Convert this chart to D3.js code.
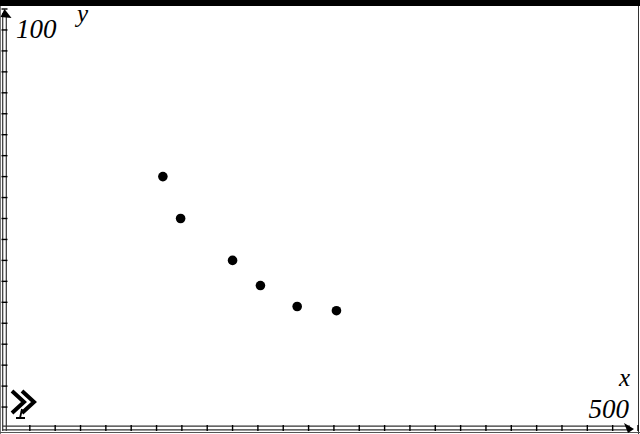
<!DOCTYPE html>
<html>
<head>
<meta charset="utf-8">
<script src="https://cdn.jsdelivr.net/npm/d3@7"></script>
<style>
  body { margin: 0; background: #fff; }
  text { font-family: "Liberation Serif", "DejaVu Serif", serif; font-style: italic; }
</style>
</head>
<body>
<div id="chart"></div>
<script>
// data
var xVals = [125, 139, 180, 202, 231, 262];
var yVals = [60, 50, 40, 34, 29, 28];
var xTicks = d3.range(0, 501, 20);
var yTicks = d3.range(0, 101, 5);

var svgWidth = 640;
var svgHeight = 434;

var svg = d3.select('#chart')
    .append('svg')
    .attr('width', svgWidth)
    .attr('height', svgHeight);

// window scales (0..500 x 0..100)
var x = d3.scaleLinear().domain([0, 500]).range([4.5, 638]);
var y = d3.scaleLinear().domain([0, 100]).range([428, 9]);

// top bar
svg.append('rect')
    .attr('x', 0).attr('y', 0)
    .attr('width', svgWidth).attr('height', 6)
    .attr('fill', '#000');

// frame edges
svg.append('line').attr('x1', 0.5).attr('x2', 0.5).attr('y1', 6).attr('y2', svgHeight)
    .attr('stroke', '#777').attr('stroke-width', 1);
svg.append('line').attr('x1', svgWidth - 1.5).attr('x2', svgWidth - 1.5).attr('y1', 6).attr('y2', svgHeight)
    .attr('stroke', '#333').attr('stroke-width', 1);
svg.append('line').attr('x1', 0).attr('x2', svgWidth).attr('y1', 432.5).attr('y2', 432.5)
    .attr('stroke', '#555').attr('stroke-width', 1);

// double-line axes
var axisColor = '#333';
[-1.8, 1.8].forEach(function(off) {
    svg.append('line')
        .attr('x1', x(0) + off).attr('x2', x(0) + off)
        .attr('y1', y(100) + 4).attr('y2', y(0) + 3)
        .attr('stroke', axisColor).attr('stroke-width', 1.2);
    svg.append('line')
        .attr('x1', x(0) - 2).attr('x2', x(500) - 8)
        .attr('y1', y(0) + off).attr('y2', y(0) + off)
        .attr('stroke', axisColor).attr('stroke-width', 1.2);
});

// tick marks
svg.append('g').selectAll('line')
    .data(xTicks.slice(1))
    .enter()
    .append('line')
        .attr('x1', d => x(d)).attr('x2', d => x(d))
        .attr('y1', y(0) - 3).attr('y2', y(0) + 3)
        .attr('stroke', '#000').attr('stroke-width', 1.4);

svg.append('g').selectAll('line')
    .data(yTicks.slice(1))
    .enter()
    .append('line')
        .attr('x1', x(0) - 3).attr('x2', x(0) + 3)
        .attr('y1', d => y(d)).attr('y2', d => y(d))
        .attr('stroke', '#000').attr('stroke-width', 1.4);

// arrowheads
svg.append('path')
    .attr('d', `M${x(0) - 4},${y(100) + 8} L${x(0)},${y(100)} L${x(0) + 7},${y(100) + 9} Z`)
    .attr('fill', '#000');
svg.append('path')
    .attr('d', `M${x(500) - 14},${y(0) - 5} L${x(500) - 4},${y(0) + 1} L${x(500) - 10},${y(0) + 5} Z`)
    .attr('fill', '#000');

// points
svg.append('g').selectAll('circle')
    .data(xVals.map((d, i) => ({x: d, y: yVals[i]})))
    .enter()
    .append('circle')
        .attr('cx', d => x(d.x))
        .attr('cy', d => y(d.y))
        .attr('r', 4.8)
        .attr('fill', '#000');

// labels
svg.append('text').attr('x', 16).attr('y', 38).attr('font-size', 27).text('100');
svg.append('text').attr('x', 77).attr('y', 22).attr('font-size', 25).text('y');
svg.append('text').attr('x', 619).attr('y', 386).attr('font-size', 25).text('x');
svg.append('text').attr('x', 629).attr('y', 418).attr('font-size', 27)
    .attr('text-anchor', 'end').text('500');

// collapse/expand glyph in the corner
var g = svg.append('g').attr('transform', 'translate(8,389)');
g.append('path')
    .attr('d', 'M4,2 L16,13 L4,24 M14,2 L26,13 L14,24')
    .attr('fill', 'none').attr('stroke', '#000').attr('stroke-width', 4);
g.append('path')
    .attr('d', 'M14,20 L12,29 M8,29 L17,29')
    .attr('fill', 'none').attr('stroke', '#000').attr('stroke-width', 1.8);
</script>
</body>
</html>
